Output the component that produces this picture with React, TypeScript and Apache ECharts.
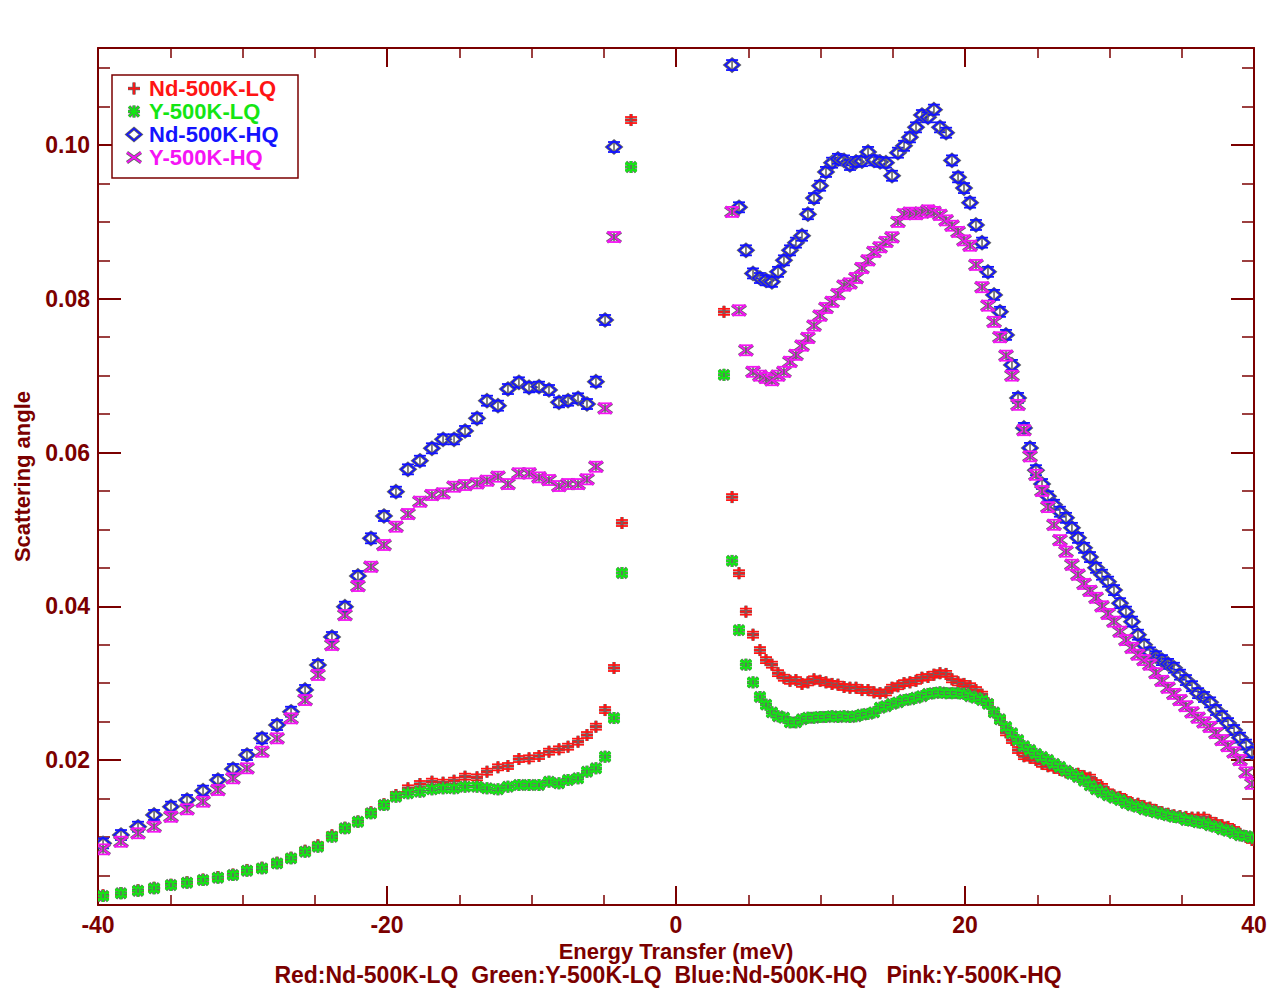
import React, { useEffect, useRef } from "react";
import * as echarts from "echarts";

// ---------------- data ----------------
const seriesNames = ["Nd-500K-LQ", "Y-500K-LQ", "Nd-500K-HQ", "Y-500K-HQ"];
const subtitleText = "Red:Nd-500K-LQ  Green:Y-500K-LQ  Blue:Nd-500K-HQ   Pink:Y-500K-HQ";
const xAxisTitle = "Energy Transfer (meV)";
const yAxisTitle = "Scattering angle";

const xMin = -40;
const xMax = 40;
const xMajorStep = 20;
const yMin = 0.00114;
const yMax = 0.11262;
const yMajorTicks = [0.02, 0.04, 0.06, 0.08, 0.1];
const yMinorTicks = [0.005, 0.01, 0.015, 0.025, 0.03, 0.035, 0.045, 0.05, 0.055, 0.065, 0.07, 0.075, 0.085, 0.09, 0.095, 0.105, 0.11];

// energy transfer (meV), negative side
const energyLeft = [
  -39.65, -38.41, -37.23, -36.12, -34.95, -33.84, -32.73, -31.7, -30.66, -29.69,
  -28.65, -27.61, -26.64, -25.67, -24.78, -23.81, -22.91, -22.01, -21.11, -20.21,
  -19.38, -18.55, -17.72, -16.89, -16.12, -15.36, -14.6, -13.77, -13.08, -12.32,
  -11.63, -10.87, -10.17, -9.48, -8.79, -8.1, -7.47, -6.78, -6.16, -5.54,
  -4.91, -4.29, -3.74, -3.11,
];
// energy transfer (meV), positive side
const energyRight = [
  3.32, 3.88, 4.36, 4.84, 5.33, 5.81, 6.23, 6.64, 7.06, 7.47, 7.89, 8.3, 8.72, 9.13, 9.55, 9.97,
  10.38, 10.8, 11.21, 11.63, 12.04, 12.46, 12.87, 13.29, 13.7, 14.12,
  14.53, 14.95, 15.36, 15.78, 16.19, 16.61, 17.02, 17.44, 17.85, 18.27,
  18.69, 19.1, 19.52, 19.93, 20.35, 20.76, 21.18, 21.59, 22.01, 22.42,
  22.84, 23.25, 23.67, 24.08, 24.5, 24.91, 25.33, 25.74, 26.16, 26.57,
  26.99, 27.4, 27.82, 28.24, 28.65, 29.07, 29.48, 29.9, 30.31, 30.73,
  31.14, 31.56, 31.97, 32.39, 32.8, 33.22, 33.63, 34.05, 34.46, 34.88,
  35.29, 35.71, 36.13, 36.54, 36.96, 37.37, 37.79, 38.2, 38.62, 39.03,
  39.45, 39.86,
];

// Nd-500K-LQ (red)
const ndLQLeft = [
  0.0024, 0.0027, 0.00305, 0.00338, 0.00378, 0.0041, 0.00445, 0.00478, 0.0051, 0.0057,
  0.006, 0.00665, 0.0073, 0.0082, 0.0089, 0.0102, 0.0112, 0.012, 0.0132, 0.01425,
  0.01545, 0.01632, 0.01688, 0.01718, 0.01705, 0.01731, 0.01783, 0.01775, 0.01848, 0.01905,
  0.01922, 0.02013, 0.02022, 0.02052, 0.02108, 0.02139, 0.02173, 0.02238, 0.02325, 0.02433,
  0.0265, 0.03197, 0.05083, 0.10325,
];
const ndLQRight = [
  0.0783, 0.0542, 0.0443, 0.0393, 0.0363, 0.0343, 0.033, 0.0324, 0.0313, 0.0307, 0.0303, 0.0304, 0.0299, 0.0301, 0.0305, 0.0303,
  0.0301, 0.0299, 0.0298, 0.0295, 0.0294, 0.0294, 0.0291, 0.0291, 0.0288, 0.0287,
  0.0288, 0.0294, 0.0296, 0.03, 0.0301, 0.0303, 0.0307, 0.0308, 0.0311, 0.0313,
  0.0312, 0.0305, 0.0301, 0.0299, 0.0296, 0.0291, 0.0285, 0.0274, 0.0262, 0.0252,
  0.0236, 0.0226, 0.0213, 0.0205, 0.0203, 0.02, 0.0195, 0.0192, 0.019, 0.0187,
  0.0184, 0.0183, 0.0182, 0.0179, 0.0177, 0.017, 0.0165, 0.0158, 0.0154, 0.0152,
  0.0148, 0.0144, 0.0143, 0.014, 0.0138, 0.0135, 0.0132, 0.013, 0.0128, 0.0127,
  0.0126, 0.0125, 0.0125, 0.0125, 0.0121, 0.0118, 0.0115, 0.0113, 0.0109, 0.0104,
  0.01, 0.0096,
];

// Y-500K-LQ (green)
const yLQLeft = [
  0.00231, 0.00266, 0.003, 0.00331, 0.00374, 0.00404, 0.00439, 0.00469, 0.00504, 0.0056,
  0.00591, 0.00656, 0.00721, 0.00807, 0.00872, 0.01002, 0.01112, 0.01197, 0.01307, 0.01415,
  0.01523, 0.01567, 0.01588, 0.01619, 0.01632, 0.01632, 0.01653, 0.01653, 0.01632, 0.01619,
  0.01653, 0.01675, 0.01675, 0.01675, 0.01718, 0.01697, 0.0174, 0.01762, 0.01848, 0.01892,
  0.02043, 0.02546, 0.04433, 0.09714,
];
const yLQRight = [
  0.0701, 0.0459, 0.0369, 0.0324, 0.0301, 0.0282, 0.0272, 0.0262, 0.0257, 0.0255, 0.0249, 0.0249, 0.0253, 0.0255, 0.0255, 0.0256,
  0.0256, 0.0257, 0.0256, 0.0257, 0.0256, 0.0257, 0.0259, 0.026, 0.0262, 0.0268,
  0.027, 0.0273, 0.0275, 0.0278, 0.0279, 0.0281, 0.0283, 0.0286, 0.0287, 0.0288,
  0.0287, 0.0287, 0.0287, 0.0286, 0.0283, 0.0281, 0.0278, 0.0273, 0.0262, 0.0253,
  0.0243, 0.0235, 0.0226, 0.0218, 0.0213, 0.0208, 0.0204, 0.02, 0.0195, 0.0191,
  0.0186, 0.0182, 0.0178, 0.0173, 0.0167, 0.0162, 0.0158, 0.0154, 0.0151, 0.0148,
  0.0144, 0.0141, 0.0139, 0.0136, 0.0134, 0.0132, 0.013, 0.0128, 0.0126, 0.0125,
  0.0122, 0.0121, 0.0119, 0.0118, 0.0115, 0.0113, 0.011, 0.0108, 0.0105, 0.0102,
  0.0101, 0.0099,
];

// Nd-500K-HQ (blue)
const ndHQLeft = [
  0.00916, 0.01024, 0.01132, 0.01285, 0.01393, 0.0148, 0.01601, 0.0174, 0.01883, 0.02065,
  0.02282, 0.02455, 0.02628, 0.02911, 0.03236, 0.036, 0.03994, 0.04394, 0.04884, 0.05174,
  0.0549, 0.05781, 0.05893, 0.06055, 0.06172, 0.06172, 0.0628, 0.06445, 0.06674, 0.06609,
  0.06826, 0.06913, 0.06848, 0.06856, 0.06813, 0.06653, 0.06674, 0.06705, 0.06631, 0.06921,
  0.07724, 0.09974, null, null,
];
const ndHQRight = [
  null, 0.1104, 0.0919, 0.0863, 0.0833, 0.0827, 0.0824, 0.0822, 0.0835, 0.085, 0.0863, 0.0873, 0.0882, 0.091, 0.0931, 0.0947,
  0.0965, 0.0977, 0.0982, 0.098, 0.0974, 0.0978, 0.0979, 0.0991, 0.098, 0.0978,
  0.0977, 0.096, 0.099, 0.0999, 0.101, 0.1023, 0.1039, 0.1036, 0.1046, 0.1023,
  0.1016, 0.098, 0.0958, 0.0944, 0.0925, 0.0896, 0.0873, 0.0835, 0.0805, 0.0783,
  0.0753, 0.0714, 0.0671, 0.0632, 0.0606, 0.0577, 0.0559, 0.0543, 0.0532, 0.0523,
  0.0515, 0.0502, 0.0489, 0.0476, 0.0464, 0.045, 0.0441, 0.0432, 0.0421, 0.0404,
  0.0393, 0.038, 0.0363, 0.035, 0.034, 0.0335, 0.033, 0.0325, 0.032, 0.0311,
  0.0304, 0.0296, 0.0287, 0.0282, 0.0275, 0.0265, 0.0257, 0.0248, 0.0239, 0.0229,
  0.022, 0.021,
];

// Y-500K-HQ (pink)
const yHQLeft = [
  0.00838, 0.00937, 0.01047, 0.01132, 0.01262, 0.01359, 0.01458, 0.0161, 0.01762, 0.01892,
  0.02108, 0.02282, 0.02542, 0.0278, 0.03106, 0.03496, 0.03886, 0.04263, 0.04514, 0.04797,
  0.05035, 0.052, 0.0536, 0.05447, 0.05469, 0.05555, 0.05577, 0.05599, 0.05633, 0.05685,
  0.0559, 0.05729, 0.05729, 0.05677, 0.05642, 0.05564, 0.0559, 0.0559, 0.05651, 0.05815,
  0.06575, 0.08803, null, null,
];
const yHQRight = [
  null, 0.0913, 0.0785, 0.0733, 0.0705, 0.07, 0.0697, 0.0694, 0.07, 0.0705, 0.0718, 0.0727, 0.0739, 0.0749, 0.0765, 0.0778,
  0.0788, 0.0796, 0.0806, 0.0817, 0.082, 0.0827, 0.084, 0.085, 0.0861, 0.0867,
  0.0874, 0.088, 0.09, 0.091, 0.0912, 0.091, 0.0912, 0.0915, 0.0913, 0.0909,
  0.0902, 0.0895, 0.0887, 0.0876, 0.0869, 0.0844, 0.0815, 0.0791, 0.077, 0.075,
  0.0726, 0.07, 0.0662, 0.0629, 0.0595, 0.0571, 0.055, 0.0529, 0.0506, 0.0486,
  0.0471, 0.0454, 0.0441, 0.0429, 0.042, 0.0411, 0.04, 0.039, 0.038, 0.0367,
  0.0356, 0.0346, 0.0337, 0.033, 0.0324, 0.0313, 0.0303, 0.0294, 0.0286, 0.0278,
  0.027, 0.0262, 0.0255, 0.0249, 0.0243, 0.0235, 0.0226, 0.0218, 0.021, 0.02,
  0.0184, 0.0169,
];

// ---------------- styles ----------------
const AXIS_COLOR = "#7b0000";
const FONT = '"Liberation Sans", Arial, Helvetica, sans-serif';
const seriesColors = ["#ff1414", "#14e614", "#1414ff", "#f514f5"];
type Kind = "plus" | "asterisk" | "diamond" | "cross";
const seriesKinds: Kind[] = ["plus", "asterisk", "diamond", "cross"];
const errHalf = [3, 3, 5, 5];
const GREY = "#666666";

function markerElements(kind: Kind, x: number, y: number, color: string, err: number): any[] {
  const els: any[] = [];
  const ln = (x1: number, y1: number, x2: number, y2: number, stroke: string, w: number) => ({
    type: "line",
    shape: { x1, y1, x2, y2 },
    style: { stroke, lineWidth: w, lineCap: "butt" },
    silent: true,
  });
  const segs: number[][] = [];
  if (kind === "plus") {
    segs.push([x - 6, y, x + 6, y], [x, y - 6, x, y + 6]);
  } else if (kind === "asterisk") {
    segs.push([x - 6, y, x + 6, y], [x, y - 6, x, y + 6], [x - 5, y - 5, x + 5, y + 5], [x - 5, y + 5, x + 5, y - 5]);
  } else if (kind === "cross") {
    segs.push([x - 7, y - 5, x + 7, y + 5], [x - 7, y + 5, x + 7, y - 5]);
  }
  if (kind === "diamond") {
    const pts = [[x, y - 6], [x + 7, y], [x, y + 6], [x - 7, y]];
    els.push({ type: "polygon", shape: { points: pts }, style: { fill: "none", stroke: GREY, lineWidth: 3.2 }, silent: true });
    els.push({ type: "polygon", shape: { points: pts }, style: { fill: "none", stroke: color, lineWidth: 1.6 }, silent: true });
  } else {
    segs.forEach((s) => els.push(ln(s[0], s[1], s[2], s[3], GREY, 3.4)));
    segs.forEach((s) => els.push(ln(s[0], s[1], s[2], s[3], color, 1.8)));
  }
  if (err > 0) {
    els.push(ln(x, y - err, x, y + err, GREY, 1.6));
    els.push(ln(x - 6, y - err, x + 6, y - err, color, 1.8));
    els.push(ln(x - 6, y + err, x + 6, y + err, color, 1.8));
  }
  return els;
}

const seriesLeft = [ndLQLeft, yLQLeft, ndHQLeft, yHQLeft];
const seriesRight = [ndLQRight, yLQRight, ndHQRight, yHQRight];

function buildData(left: (number | null)[], right: (number | null)[]) {
  const out: number[][] = [];
  energyLeft.forEach((e, i) => {
    if (left[i] != null) out.push([e, left[i] as number]);
  });
  energyRight.forEach((e, i) => {
    if (right[i] != null) out.push([e, right[i] as number]);
  });
  return out;
}

export default function App() {
  const ref = useRef<HTMLDivElement>(null);

  useEffect(() => {
    if (!ref.current) return;
    const chart = echarts.init(ref.current, undefined, { renderer: "svg" });

    const lineStyle = { color: AXIS_COLOR, width: 2 };
    const labelStyle = { color: AXIS_COLOR, fontSize: 23, fontWeight: "bold" as const, fontFamily: FONT };

    const xBase = (position: "bottom" | "top", showLabel: boolean) => ({
      type: "value",
      position,
      min: xMin,
      max: xMax,
      interval: xMajorStep,
      axisLine: { show: true, onZero: false, lineStyle },
      axisTick: { show: true, inside: true, length: 19, lineStyle },
      minorTick: { show: true, splitNumber: 4, length: 10, lineStyle: { color: AXIS_COLOR, width: 1.5 } },
      splitLine: { show: false },
      minorSplitLine: { show: false },
      axisLabel: { show: showLabel, margin: 8, ...labelStyle, formatter: (v: number) => String(v) },
    });

    const yBase = (position: "left" | "right", ticks: number[], len: number, showLabel: boolean, showLine: boolean) => ({
      type: "value",
      position,
      min: yMin,
      max: yMax,
      axisLine: { show: showLine, onZero: false, lineStyle },
      axisTick: { show: true, inside: true, length: len, customValues: ticks, lineStyle: { color: AXIS_COLOR, width: len > 15 ? 2 : 1.5 } },
      splitLine: { show: false },
      axisLabel: showLabel
        ? { show: true, customValues: ticks, margin: 8, ...labelStyle, formatter: (v: number) => v.toFixed(2) }
        : { show: false },
    });

    const yLeft: any = yBase("left", yMajorTicks, 23, true, true);
    yLeft.name = yAxisTitle;
    yLeft.nameLocation = "middle";
    yLeft.nameGap = 65;
    yLeft.nameTextStyle = { ...labelStyle, fontSize: 22 };

    const series = seriesNames.map((name, si) => ({
      type: "custom",
      name,
      xAxisIndex: 0,
      yAxisIndex: 0,
      clip: true,
      z: 2 + si,
      data: buildData(seriesLeft[si], seriesRight[si]),
      encode: { x: 0, y: 1 },
      renderItem: (params: any, api: any) => {
        const p = api.coord([api.value(0), api.value(1)]);
        return {
          type: "group",
          children: markerElements(seriesKinds[si], p[0], p[1], seriesColors[si], errHalf[si]),
        };
      },
    }));

    const legendX = 112;
    const legendY = 75;
    const rowH = 23;
    const legendEls: any[] = [
      {
        type: "rect",
        shape: { x: legendX, y: legendY, width: 186, height: 103 },
        style: { fill: "#ffffff", stroke: AXIS_COLOR, lineWidth: 1.5 },
        z: 100,
      },
    ];
    seriesNames.forEach((name, i) => {
      const cy = legendY + 13.5 + i * rowH;
      markerElements(seriesKinds[i], 134, cy, seriesColors[i], 0).forEach((el) => legendEls.push({ ...el, z: 101 }));
      legendEls.push({
        type: "text",
        x: 149,
        y: cy,
        z: 101,
        style: {
          text: name,
          fill: seriesColors[i],
          font: `bold 22px ${FONT}`,
          verticalAlign: "middle",
          align: "left",
        },
      });
    });
    legendEls.push({
      type: "text",
      x: 676,
      y: 951,
      z: 101,
      style: {
        text: xAxisTitle,
        fill: AXIS_COLOR,
        font: `bold 22px ${FONT}`,
        verticalAlign: "middle",
        align: "center",
      },
    });
    legendEls.push({
      type: "text",
      x: 668,
      y: 975,
      z: 101,
      style: {
        text: subtitleText,
        fill: AXIS_COLOR,
        font: `bold 23px ${FONT}`,
        verticalAlign: "middle",
        align: "center",
      },
    });

    chart.setOption({
      animation: false,
      backgroundColor: "#ffffff",
      grid: { left: 98, right: 26, top: 48, bottom: 83, containLabel: false, outerBoundsMode: "none" },
      xAxis: [xBase("bottom", true), xBase("top", false)],
      yAxis: [
        yLeft,
        yBase("left", yMinorTicks, 12, false, false),
        yBase("right", yMajorTicks, 23, false, true),
        yBase("right", yMinorTicks, 12, false, false),
      ],
      series,
      graphic: legendEls,
    } as any);

    return () => chart.dispose();
  }, []);

  return <div ref={ref} style={{ position: "absolute", left: 0, top: 0, width: 1280, height: 988 }} />;
}
